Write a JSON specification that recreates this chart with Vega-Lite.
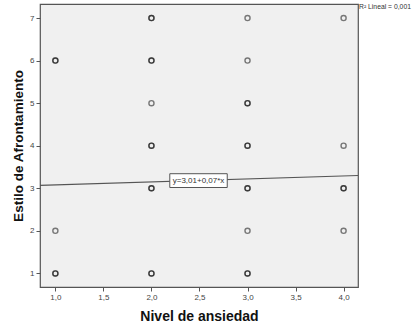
{
  "$schema": "https://vega.github.io/schema/vega-lite/v6.json",
  "autosize": "none",
  "padding": {"left": 40, "top": 4, "right": 57, "bottom": 46},
  "width": 318,
  "height": 283,
  "background": "white",
  "config": {
    "font": "Liberation Sans",
    "view": {"fill": "#f0f0f0", "stroke": "#555555", "strokeWidth": 1.2}
  },
  "datasets": {
    "points": [
      {"ansiedad": 1, "afrontamiento": 6}, {"ansiedad": 1, "afrontamiento": 6},
      {"ansiedad": 1, "afrontamiento": 2},
      {"ansiedad": 1, "afrontamiento": 1}, {"ansiedad": 1, "afrontamiento": 1},
      {"ansiedad": 2, "afrontamiento": 7}, {"ansiedad": 2, "afrontamiento": 7},
      {"ansiedad": 2, "afrontamiento": 6}, {"ansiedad": 2, "afrontamiento": 6},
      {"ansiedad": 2, "afrontamiento": 5},
      {"ansiedad": 2, "afrontamiento": 4}, {"ansiedad": 2, "afrontamiento": 4},
      {"ansiedad": 2, "afrontamiento": 3}, {"ansiedad": 2, "afrontamiento": 3},
      {"ansiedad": 2, "afrontamiento": 1}, {"ansiedad": 2, "afrontamiento": 1},
      {"ansiedad": 3, "afrontamiento": 7},
      {"ansiedad": 3, "afrontamiento": 6},
      {"ansiedad": 3, "afrontamiento": 5}, {"ansiedad": 3, "afrontamiento": 5},
      {"ansiedad": 3, "afrontamiento": 4}, {"ansiedad": 3, "afrontamiento": 4},
      {"ansiedad": 3, "afrontamiento": 3}, {"ansiedad": 3, "afrontamiento": 3},
      {"ansiedad": 3, "afrontamiento": 2},
      {"ansiedad": 3, "afrontamiento": 1}, {"ansiedad": 3, "afrontamiento": 1},
      {"ansiedad": 4, "afrontamiento": 7},
      {"ansiedad": 4, "afrontamiento": 4},
      {"ansiedad": 4, "afrontamiento": 3}, {"ansiedad": 4, "afrontamiento": 3},
      {"ansiedad": 4, "afrontamiento": 2}
    ],
    "fit": [
      {"ansiedad": 0.84, "afrontamiento": 3.069},
      {"ansiedad": 4.15, "afrontamiento": 3.30}
    ],
    "eq": [
      {"ansiedad": 2.49, "afrontamiento": 3.18, "label": "y=3,01+0,07*x"}
    ],
    "r2": [
      {"ansiedad": 4.15, "afrontamiento": 7.25, "label": "R² Lineal = 0,001"}
    ]
  },
  "encoding": {
    "x": {
      "field": "ansiedad", "type": "quantitative",
      "scale": {"domain": [0.84, 4.15], "nice": false, "zero": false},
      "axis": {
        "title": "Nivel de ansiedad",
        "values": [1, 1.5, 2, 2.5, 3, 3.5, 4],
        "labelExpr": "replace(format(datum.value, '.1f'), '.', ',')",
        "grid": false, "domain": false,
        "tickColor": "#555555", "tickSize": 4,
        "labelFontSize": 8, "labelColor": "#444444", "labelPadding": 2,
        "titleFontSize": 14, "titleFontWeight": "bold", "titleColor": "#111111",
        "titlePadding": 8
      }
    },
    "y": {
      "field": "afrontamiento", "type": "quantitative",
      "scale": {"domain": [0.68, 7.33], "nice": false, "zero": false},
      "axis": {
        "title": "Estilo de Afrontamiento",
        "values": [1, 2, 3, 4, 5, 6, 7],
        "format": "d",
        "grid": false, "domain": false,
        "tickColor": "#555555", "tickSize": 4,
        "labelFontSize": 8, "labelColor": "#444444", "labelPadding": 2,
        "titleFontSize": 13.5, "titleFontWeight": "bold", "titleColor": "#111111",
        "titlePadding": 4
      }
    }
  },
  "layer": [
    {
      "data": {"name": "points"},
      "mark": {"type": "point", "shape": "circle", "filled": false, "stroke": "#000000", "strokeWidth": 1.4, "size": 26, "opacity": 0.5}
    },
    {
      "data": {"name": "fit"},
      "mark": {"type": "line", "color": "#555555", "strokeWidth": 1.1}
    },
    {
      "data": {"name": "eq"},
      "mark": {"type": "point", "shape": "M-1,-0.24L1,-0.24L1,0.24L-1,0.24Z", "size": 3300, "filled": true, "fill": "white", "stroke": "#555555", "strokeWidth": 1, "opacity": 1}
    },
    {
      "data": {"name": "eq"},
      "mark": {"type": "text", "fontSize": 8, "color": "#333333", "align": "center", "baseline": "middle"},
      "encoding": {"text": {"field": "label"}}
    },
    {
      "data": {"name": "r2"},
      "mark": {"type": "text", "fontSize": 6.8, "color": "#333333", "align": "left", "baseline": "middle", "dx": 1},
      "encoding": {"text": {"field": "label"}}
    }
  ]
}
